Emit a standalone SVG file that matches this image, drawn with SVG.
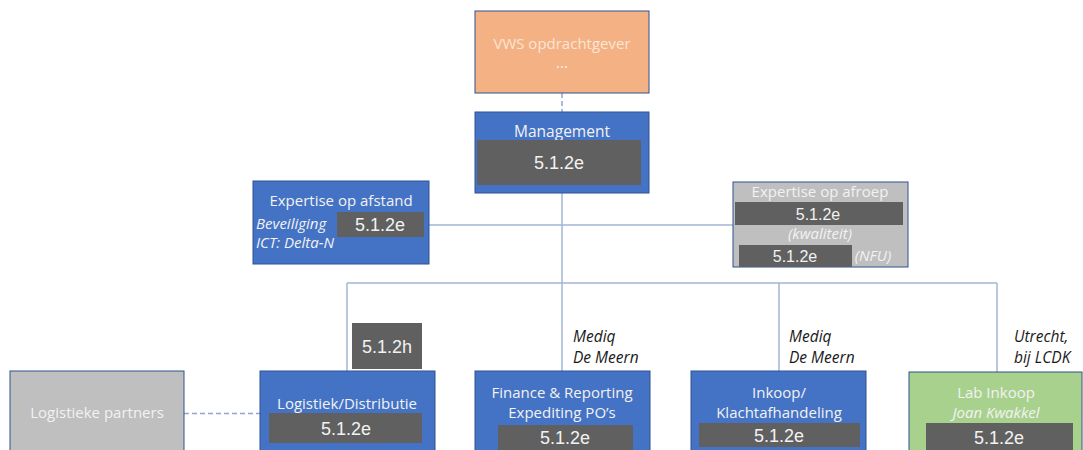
<svg xmlns="http://www.w3.org/2000/svg" width="1083" height="450" viewBox="0 0 1083 450">
<style>
.t{font-family:"Open Sans","Liberation Sans",sans-serif;fill:#f2f2f2;text-anchor:middle;font-size:15px}
.n{font-family:"Liberation Sans",Arial,sans-serif;fill:#f2f2f2;text-anchor:middle;font-size:18px}
.i{font-style:italic}
.k{font-family:"Open Sans","Liberation Sans",sans-serif;fill:#1a1a1a;font-style:italic;font-size:15.5px}
.blue{fill:#4472c4;stroke:#2f528f;stroke-width:1}
.grayn{fill:#bfbfbf;stroke:#2f528f;stroke-width:1}
.g{fill:#606060}
.ln{stroke:#a3b4d6;stroke-width:1.5;fill:none}
.ds{stroke:#8fa6cf;stroke-width:1.5;fill:none;stroke-dasharray:5 3}
</style>
<rect width="1083" height="450" fill="#fff"/>
<g id="connectors">
<line class="ds" x1="562" y1="93" x2="562" y2="112"/>
<line class="ln" x1="562" y1="193" x2="562" y2="283"/>
<line class="ln" x1="429" y1="225" x2="733" y2="225"/>
<line class="ln" x1="347" y1="283" x2="997" y2="283"/>
<line class="ln" x1="347" y1="283" x2="347" y2="371"/>
<line class="ln" x1="562" y1="283" x2="562" y2="371"/>
<line class="ln" x1="779" y1="283" x2="779" y2="371"/>
<line class="ln" x1="997" y1="283" x2="997" y2="372"/>
<line class="ds" x1="184" y1="413.5" x2="260" y2="413.5"/>
</g>
<g id="vws">
<rect x="475" y="11" width="174" height="82" fill="#f4b183" stroke="#2f528f" stroke-width="1"/>
<text class="t" x="562" y="49" style="fill:#fbe5d6">VWS opdrachtgever</text>
<text class="t" x="562" y="68" font-size="13">...</text>
</g>
<g id="management">
<rect class="blue" x="475" y="112" width="174" height="81"/>
<text class="t" x="562" y="137" style="font-size:15.5px">Management</text>
<rect class="g" x="477" y="140" width="164" height="45"/>
<text class="n" x="559" y="169">5.1.2e</text>
</g>
<g id="expertise-afstand">
<rect class="blue" x="253" y="181" width="176" height="83"/>
<text class="t" x="341" y="206">Expertise op afstand</text>
<rect class="g" x="337" y="212" width="87" height="25"/>
<text class="n" x="380" y="231">5.1.2e</text>
<text class="t i" x="256" y="229" style="text-anchor:start">Beveiliging</text>
<text class="t i" x="256" y="248" style="text-anchor:start">ICT: Delta-N</text>
</g>
<g id="expertise-afroep">
<rect class="grayn" x="733" y="182" width="175" height="85"/>
<text class="t" x="820" y="197">Expertise op afroep</text>
<rect class="g" x="735" y="202" width="168" height="23"/>
<text class="n" x="818" y="220" style="font-size:16px">5.1.2e</text>
<text class="t i" x="820" y="239">(kwaliteit)</text>
<rect class="g" x="739" y="245" width="113" height="22"/>
<text class="n" x="795" y="262" style="font-size:16px">5.1.2e</text>
<text class="t i" x="873" y="261">(NFU)</text>
</g>
<g id="partners">
<rect class="grayn" x="10" y="371" width="174" height="85"/>
<text class="t" x="97" y="418">Logistieke partners</text>
</g>
<g id="logistiek">
<rect class="g" x="352" y="323" width="70" height="46"/>
<text class="n" x="387" y="353">5.1.2h</text>
<rect class="blue" x="260" y="371" width="175" height="85"/>
<text class="t" x="347" y="409">Logistiek/Distributie</text>
<rect class="g" x="269" y="413" width="153" height="30"/>
<text class="n" x="346" y="435">5.1.2e</text>
</g>
<g id="finance">
<text class="k" x="573" y="342">Mediq</text>
<text class="k" x="573" y="363">De Meern</text>
<rect class="blue" x="475" y="371" width="175" height="85"/>
<text class="t" x="562" y="398">Finance  &amp; Reporting</text>
<text class="t" x="562" y="418">Expediting PO’s</text>
<rect class="g" x="498" y="425" width="135" height="30"/>
<text class="n" x="565" y="444">5.1.2e</text>
</g>
<g id="inkoop">
<text class="k" x="789" y="342">Mediq</text>
<text class="k" x="789" y="363">De Meern</text>
<rect class="blue" x="691" y="371" width="175" height="85"/>
<text class="t" x="779" y="398">Inkoop/</text>
<text class="t" x="779" y="418">Klachtafhandeling</text>
<rect class="g" x="699" y="423" width="161" height="24"/>
<text class="n" x="779" y="442">5.1.2e</text>
</g>
<g id="lab">
<text class="k" x="1014" y="342">Utrecht,</text>
<text class="k" x="1014" y="363">bij LCDK</text>
<rect x="909" y="372" width="173" height="85" fill="#a9d18e" stroke="#2f528f" stroke-width="1"/>
<text class="t" x="996" y="398">Lab Inkoop</text>
<text class="t i" x="996" y="418">Joan Kwakkel</text>
<rect class="g" x="926" y="423" width="147" height="30"/>
<text class="n" x="999" y="444">5.1.2e</text>
</g>
</svg>
